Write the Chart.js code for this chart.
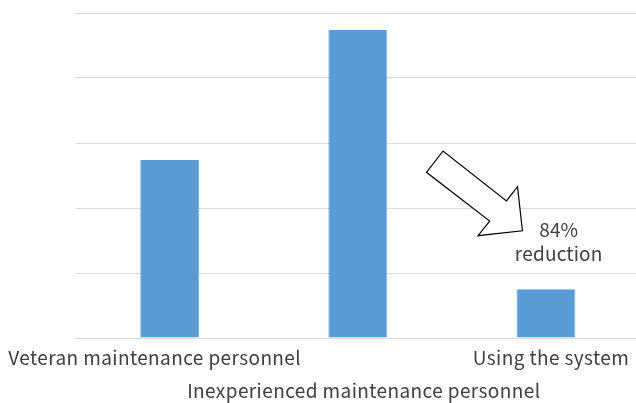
<!DOCTYPE html>
<html>
<head>
<meta charset="utf-8">
<script src="https://cdn.jsdelivr.net/npm/chart.js@4/dist/chart.umd.min.js"></script>
<style>
  html, body { margin: 0; padding: 0; background: #ffffff; overflow: hidden; }
  #wrap { width: 640px; height: 403px; }
</style>
</head>
<body>
<div id="wrap"><canvas id="c" width="640" height="403"></canvas></div>
<script>
// Work time by group (relative units)
const categories = [
  'Veteran maintenance personnel',
  'Inexperienced maintenance personnel',
  'Using the system'
];
const values = [2.74, 4.74, 0.75];
const yTicks = [0, 1, 2, 3, 4, 5];
const noteLines = ['84%', 'reduction'];

const FONT = '"Noto Sans CJK JP", "Noto Sans", sans-serif';
const TEXT = '#404040';

// Category labels drawn beneath the axis, the middle one on a second row
const labelRows = [0, 1, 0];
const labelShift = [-15, 6, 5];

const categoryLabels = {
  id: 'categoryLabels',
  afterDraw(chart) {
    const { ctx, scales: { x }, chartArea } = chart;
    ctx.save();
    ctx.font = '19px ' + FONT;
    ctx.letterSpacing = '0.4px';
    ctx.fillStyle = TEXT;
    ctx.textAlign = 'center';
    ctx.textBaseline = 'alphabetic';
    categories.forEach((name, i) => {
      const px = x.getPixelForValue(i) + labelShift[i];
      const py = chartArea.bottom + 27 + labelRows[i] * 33;
      ctx.fillText(name, px, py);
    });
    ctx.restore();
  }
};

// Outline block arrow and note, placed in category/value space
const arrowShape = [
  [1.453, 2.877], [1.365, 2.549], [1.701, 1.800], [1.639, 1.574],
  [1.875, 1.650], [1.849, 2.328], [1.790, 2.108]
];
const noteAt = [[2.068, 1.554], [2.068, 1.185]];

const reductionNote = {
  id: 'reductionNote',
  afterDraw(chart) {
    const { ctx, scales: { x, y } } = chart;
    const x0 = x.getPixelForValue(0);
    const step = x.getPixelForValue(1) - x0;
    const toPx = ([i, v]) => [x0 + i * step, y.getPixelForValue(v)];
    ctx.save();
    ctx.beginPath();
    arrowShape.map(toPx).forEach(([px, py], k) => k ? ctx.lineTo(px, py) : ctx.moveTo(px, py));
    ctx.closePath();
    ctx.fillStyle = '#ffffff';
    ctx.fill();
    ctx.lineWidth = 1.2;
    ctx.strokeStyle = '#000000';
    ctx.lineJoin = 'miter';
    ctx.stroke();
    ctx.font = '19px ' + FONT;
    ctx.letterSpacing = '0.2px';
    ctx.fillStyle = TEXT;
    ctx.textAlign = 'center';
    ctx.textBaseline = 'alphabetic';
    noteLines.forEach((t, k) => {
      const [px, py] = toPx(noteAt[k]);
      ctx.fillText(t, px, py);
    });
    ctx.restore();
  }
};

new Chart(document.getElementById('c'), {
  type: 'bar',
  data: {
    labels: categories,
    datasets: [{
      data: values,
      backgroundColor: '#5B9BD5',
      borderColor: '#7FB0DE',
      borderWidth: { left: 1, right: 1, top: 0, bottom: 0 },
      categoryPercentage: 1,
      barPercentage: 0.3136
    }]
  },
  options: {
    responsive: false,
    animation: false,
    events: [],
    layout: { padding: { left: 75.6, right: 0, top: 13, bottom: 65 } },
    plugins: { legend: { display: false }, tooltip: { enabled: false } },
    scales: {
      x: { display: false },
      y: {
        min: yTicks[0],
        max: yTicks[yTicks.length - 1],
        afterBuildTicks(scale) { scale.ticks = yTicks.map(v => ({ value: v })); },
        ticks: { display: false },
        border: { display: false },
        grid: { color: '#d9d9d9', lineWidth: 1, drawTicks: false }
      }
    }
  },
  plugins: [categoryLabels, reductionNote]
});
</script>
</body>
</html>
